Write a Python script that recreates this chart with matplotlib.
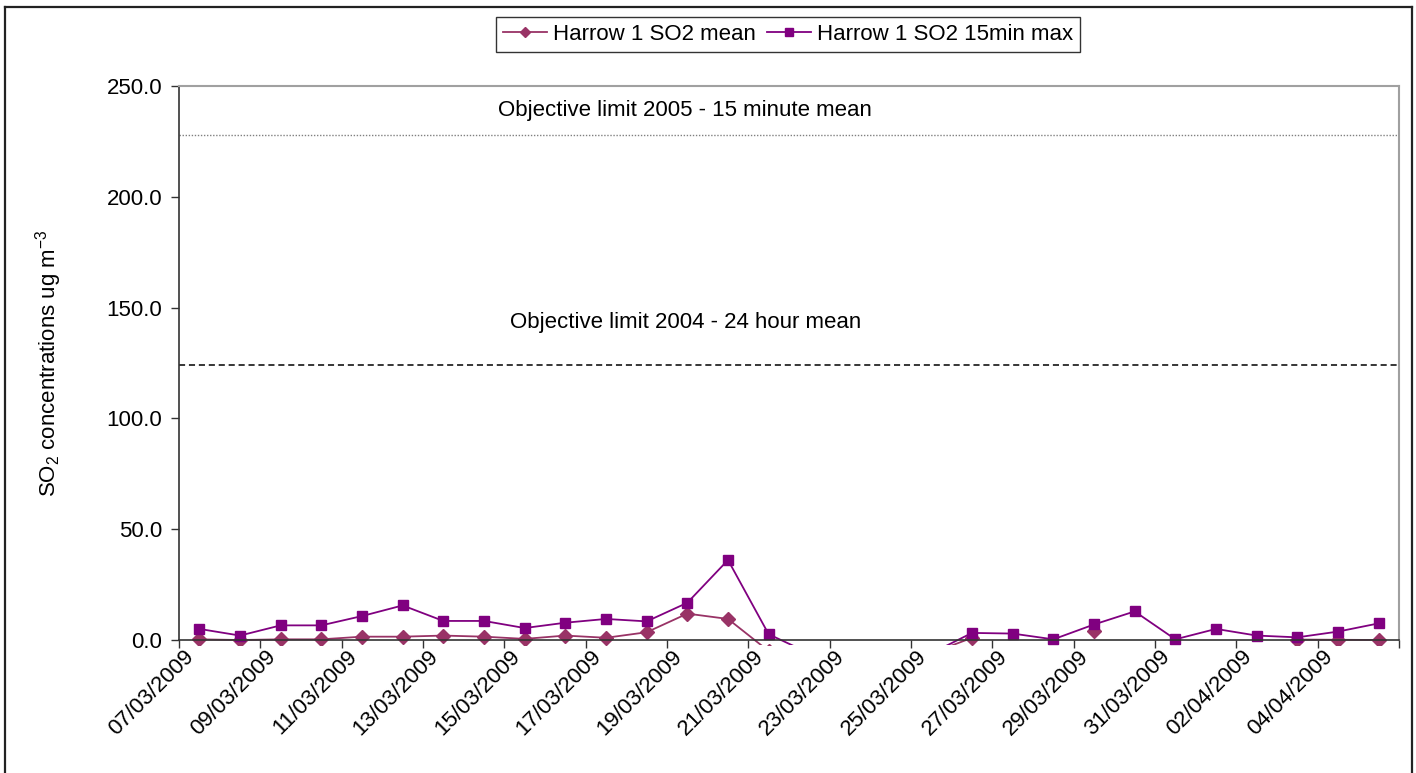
import numpy as np
import matplotlib
matplotlib.use("Agg")
import matplotlib.pyplot as plt
from matplotlib.patches import Rectangle
from matplotlib.lines import Line2D

plt.rcParams['font.family'] = ['Liberation Sans', 'DejaVu Sans']
plt.rcParams['mathtext.default'] = 'regular'

# ---- data ----
dates = ['07/03/2009', '08/03/2009', '09/03/2009', '10/03/2009', '11/03/2009',
         '12/03/2009', '13/03/2009', '14/03/2009', '15/03/2009', '16/03/2009',
         '17/03/2009', '18/03/2009', '19/03/2009', '20/03/2009', '21/03/2009',
         '22/03/2009', '23/03/2009', '24/03/2009', '25/03/2009', '26/03/2009',
         '27/03/2009', '28/03/2009', '29/03/2009', '30/03/2009', '31/03/2009',
         '01/04/2009', '02/04/2009', '03/04/2009', '04/04/2009', '05/04/2009']
nan = np.nan
so2_mean = [0.3, 0.0, 0.3, 0.3, 1.5, 1.5, 2.0, 1.5, 0.5, 2.0,
            1.0, 3.5, 11.9, 9.5, -5.0, -6.0, -6.0, -6.0, -6.0, 1.0,
            nan, nan, 4.2, nan, nan, nan, nan, 0.2, 0.1, 0.0]
so2_max = [5.0, 2.0, 6.6, 6.6, 10.8, 15.6, 8.6, 8.6, 5.4, 7.8,
           9.5, 8.4, 16.8, 36.1, 2.6, -6.0, -6.0, -6.0, -6.0, 3.2,
           2.9, 0.3, 7.0, 12.9, 0.3, 5.0, 2.0, 1.2, 3.8, 7.5]
limit_15min = 228.0
limit_24h = 124.0
series_names = ['Harrow 1 SO2 mean', 'Harrow 1 SO2 15min max']
limit_texts = ['Objective limit 2005 - 15 minute mean',
               'Objective limit 2004 - 24 hour mean']
yticks = [0, 50, 100, 150, 200, 250]

W, H = 1416, 773
fig = plt.figure(figsize=(W / 100, H / 100), dpi=100)
L, R, T, B = 179, 1399, 86, 640
ax = fig.add_axes([L / W, 1 - B / H, (R - L) / W, (B - T) / H])

x = np.arange(len(dates))
FS = 16

c_mean = '#993366'
c_max = '#800080'

clip = Rectangle((-0.5, -2.4), len(dates), 260, transform=ax.transData,
                 facecolor='none', edgecolor='none')

l1, = ax.plot(x, so2_mean, color=c_mean, lw=1.3, marker='D', ms=7,
              mec=c_mean, mfc=c_mean, label=series_names[0], clip_on=True)
l2, = ax.plot(x, so2_max, color=c_max, lw=1.3, marker='s', ms=7.5,
              mec=c_max, mfc=c_max, label=series_names[1], clip_on=True)
for ln in (l1, l2):
    ln.set_clip_path(clip)

ax.axhline(limit_15min, color='#808080', lw=1.0, ls=(0, (1, 1.2)))
ax.axhline(limit_24h, color='black', lw=1.1, ls=(0, (4, 2.5)))

ax.text(0.415, 0.955, limit_texts[0], transform=ax.transAxes, ha='center',
        va='center', fontsize=FS)
ax.text(0.415, 0.573, limit_texts[1], transform=ax.transAxes, ha='center',
        va='center', fontsize=FS)

ax.set_xlim(-0.5, len(dates) - 0.5)
ax.set_ylim(0, 250)
ax.set_yticks(yticks)
ax.set_yticklabels([f'{v:.1f}' for v in yticks], fontsize=FS)

ax.set_xticks(np.arange(-0.5, len(dates), 2))
ax.set_xticklabels([])
ax.set_xticks(x[::2] - 0.2, minor=True)
ax.set_xticklabels(dates[::2], minor=True, rotation=45, ha='right',
                   va='center', rotation_mode='anchor', fontsize=FS)
ax.tick_params(axis='x', which='minor', length=0, pad=10)
ax.tick_params(axis='x', which='major', length=6, width=1, direction='out',
               color='#333333')
ax.tick_params(axis='y', length=6, width=1, direction='out', color='#333333',
               pad=6)

for s in ('left', 'bottom'):
    ax.spines[s].set_color('#333333')
    ax.spines[s].set_linewidth(1.2)
for s in ('top', 'right'):
    ax.spines[s].set_color('#a0a0a0')
    ax.spines[s].set_linewidth(1.5)

ax.set_ylabel('SO$_2$ concentrations ug m$^{-3}$', fontsize=FS)
ax.yaxis.set_label_coords(-0.094, 0.5)

leg = fig.legend(handles=[l1, l2], loc='center', ncol=2,
                 bbox_to_anchor=(788 / W, 1 - 34.5 / H), fontsize=FS,
                 frameon=True, fancybox=False, shadow=False,
                 handlelength=2.0, handletextpad=0.25, columnspacing=0.5,
                 borderpad=0.3, markerscale=0.75)
leg.get_frame().set_edgecolor('black')
leg.get_frame().set_linewidth(1.0)

# outer chart frame
fc = '#222222'
fig.add_artist(Line2D([5 / W, 5 / W], [0, 1 - 7 / H], color=fc, lw=1.6,
                      transform=fig.transFigure))
fig.add_artist(Line2D([5 / W, 1412 / W], [1 - 7 / H, 1 - 7 / H], color=fc,
                      lw=1.6, transform=fig.transFigure))
fig.add_artist(Line2D([1412 / W, 1412 / W], [0, 1 - 7 / H], color=fc, lw=1.6,
                      transform=fig.transFigure))

fig.savefig('out.png', dpi=100, facecolor='white')
